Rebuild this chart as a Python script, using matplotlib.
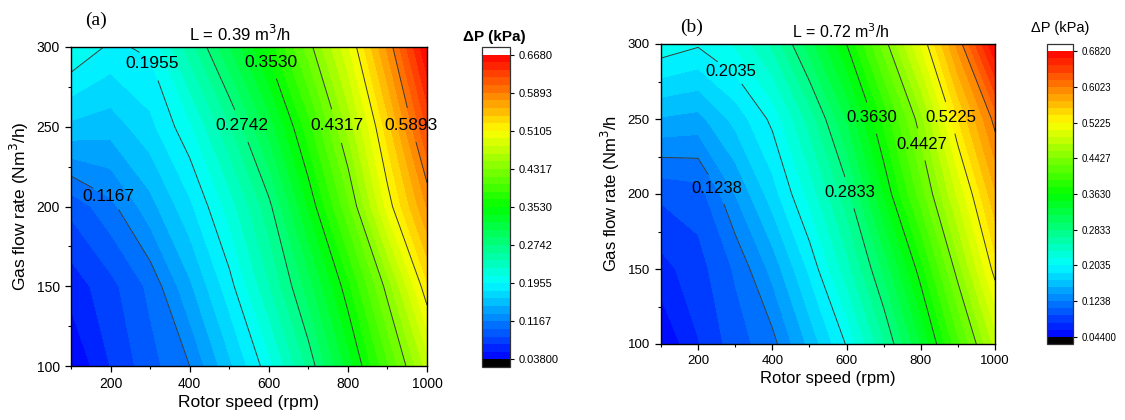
"""
Pressure drop contour maps for two liquid flow rates (a: L = 0.39, b: L = 0.72 m3/h).
Rotor speed on x, gas flow rate on y, dP (kPa) as filled contours.
"""

import numpy as np
import matplotlib
matplotlib.use("Agg")
import matplotlib.pyplot as plt
from matplotlib.colors import LinearSegmentedColormap

plt.rcParams["font.family"] = ["Liberation Sans", "DejaVu Sans"]

# grid
rotor_speed = [100, 200, 300, 400, 500, 600, 700, 800, 900, 1000]   # rpm
gas_flow = [100, 150, 200, 250, 300]                                 # Nm3/h

# dP (kPa), one row per gas flow rate
dp_a_100 = [0.038, 0.070, 0.095, 0.1167, 0.160, 0.205, 0.263, 0.328, 0.398, 0.470]
dp_a_150 = [0.060, 0.080, 0.105, 0.145, 0.189, 0.241, 0.298, 0.364, 0.439, 0.523]
dp_a_200 = [0.090, 0.112, 0.142, 0.176, 0.218, 0.269, 0.339, 0.412, 0.501, 0.575]
dp_a_250 = [0.160, 0.155, 0.175, 0.208, 0.256, 0.312, 0.378, 0.452, 0.535, 0.623]
dp_a_300 = [0.212, 0.192, 0.199, 0.251, 0.305, 0.359, 0.424, 0.492, 0.577, 0.668]

dp_b_100 = [0.044, 0.075, 0.100, 0.118, 0.160, 0.205, 0.265, 0.331, 0.406, 0.480]
dp_b_150 = [0.070, 0.085, 0.110, 0.145, 0.191, 0.244, 0.303, 0.372, 0.451, 0.530]
dp_b_200 = [0.095, 0.100, 0.140, 0.180, 0.225, 0.277, 0.348, 0.419, 0.494, 0.568]
dp_b_250 = [0.154, 0.150, 0.177, 0.208, 0.258, 0.316, 0.383, 0.453, 0.538, 0.609]
dp_b_300 = [0.215, 0.206, 0.222, 0.255, 0.308, 0.363, 0.434, 0.508, 0.592, 0.682]

# colour scale ends and contour line values
range_a = (0.038, 0.668)
range_b = (0.044, 0.682)
lines_a = [0.1167, 0.1955, 0.2742, 0.3530, 0.4317, 0.5105, 0.5893]
lines_b = [0.1238, 0.2035, 0.2833, 0.3630, 0.4427, 0.5225, 0.6023]
cbar_labels_a = ["0.03800", "0.1167", "0.1955", "0.2742", "0.3530",
                 "0.4317", "0.5105", "0.5893", "0.6680"]
cbar_labels_b = ["0.04400", "0.1238", "0.2035", "0.2833", "0.3630",
                 "0.4427", "0.5225", "0.6023", "0.6820"]

# where the inline labels sit (rpm, Nm3/h)
label_pos_a = [(198, 208), (300, 289), (535, 251), (598, 290), (779, 251), (960, 251)]
label_pos_b = [(229, 200), (299, 285), (609, 201), (672, 251), (800, 233), (882, 251)]

CMAP = LinearSegmentedColormap.from_list(
    "origin_rainbow", ["#0000ff", "#00ffff", "#00ff00", "#ffff00", "#ff0000"])
CMAP.set_under("black")
CMAP.set_over("white")

W, H = 1125, 420


def px_box(left, top, right, bottom):
    return [left / W, 1 - bottom / H, (right - left) / W, (bottom - top) / H]


def draw_panel(fig, z, vrange, lines, label_pos, cbar_labels, ax_box, cax_box,
               title, title_x, letter, letter_xy, cb_title, cb_title_xy, cb_bold,
               ylabel, sizes):
    tick_fs, lab_fs, clab_fs, cb_fs = sizes
    ax = fig.add_axes(ax_box)
    cax = fig.add_axes(cax_box)

    X, Y = np.meshgrid(rotor_speed, gas_flow)
    Z = np.array(z)
    levels = np.linspace(vrange[0], vrange[1], 41)
    cf = ax.contourf(X, Y, Z, levels=levels, cmap=CMAP, extend="both")
    cs = ax.contour(X, Y, Z, levels=lines, colors="#3a3a3a", linewidths=0.7)
    texts = ax.clabel(cs, fmt="%.4f", fontsize=clab_fs, colors="black",
                      inline=True, inline_spacing=-9, manual=label_pos)
    for t in texts:
        t.set_rotation(0)
        t.set_clip_on(False)

    ax.set_xlim(100, 1000)
    ax.set_ylim(100, 300)
    ax.set_xticks([200, 400, 600, 800, 1000])
    ax.set_xticks([100, 300, 500, 700, 900], minor=True)
    ax.set_yticks([100, 150, 200, 250, 300])
    ax.set_yticks([125, 175, 225, 275], minor=True)
    ax.tick_params(which="major", direction="out", length=4.5, width=0.9,
                   labelsize=tick_fs)
    ax.tick_params(which="minor", direction="out", length=2.5, width=0.8)
    for s in ax.spines.values():
        s.set_linewidth(1.0)
    ax.set_xlabel("Rotor speed (rpm)", fontsize=lab_fs, labelpad=3)
    ax.set_ylabel(ylabel, fontsize=lab_fs, labelpad=4)
    ax.text(title_x, 1.01, title, transform=ax.transAxes, ha="center",
            va="bottom", fontsize=lab_fs - 0.5)

    cb = fig.colorbar(cf, cax=cax, extend="both", extendrect=True,
                      extendfrac=0.025, drawedges=False)
    cb.set_ticks([vrange[0]] + lines + [vrange[1]])
    cb.set_ticklabels(cbar_labels)
    cb.ax.tick_params(direction="out", length=3, width=0.8, labelsize=cb_fs)
    cb.outline.set_linewidth(0.9)
    cb.outline.set_edgecolor("#333333")

    fig.text(letter_xy[0] / W, 1 - letter_xy[1] / H, letter, ha="center",
             va="center", fontsize=14, family="Liberation Serif")
    fig.text(cb_title_xy[0] / W, 1 - cb_title_xy[1] / H, cb_title, ha="center",
             va="center", fontsize=11 if cb_bold else 10.5,
             fontweight="bold" if cb_bold else "normal")
    return ax


def main():
    fig = plt.figure(figsize=(W / 100, H / 100), dpi=100)

    draw_panel(fig, [dp_a_100, dp_a_150, dp_a_200, dp_a_250, dp_a_300],
               range_a, lines_a, label_pos_a, cbar_labels_a,
               px_box(71, 47, 427, 366), px_box(482, 47, 510, 367),
               "L = 0.39 m$^3$/h", 0.475, "(a)", (96, 20),
               "ΔP (kPa)", (494, 37), True,
               "Gas flow rate (Nm$^3$/h)", (10, 12.5, 12.5, 8))

    draw_panel(fig, [dp_b_100, dp_b_150, dp_b_200, dp_b_250, dp_b_300],
               range_b, lines_b, label_pos_b, cbar_labels_b,
               px_box(661, 44, 995, 344), px_box(1047, 44, 1073, 344),
               "L = 0.72 m$^3$/h", 0.54, "(b)", (692, 27),
               "ΔP (kPa)", (1060, 28), False,
               "Gas flow rate (Nm$^3$/h", (9.5, 12, 12, 7))

    fig.savefig("out.png", dpi=100)
    plt.close(fig)


if __name__ == "__main__":
    main()
